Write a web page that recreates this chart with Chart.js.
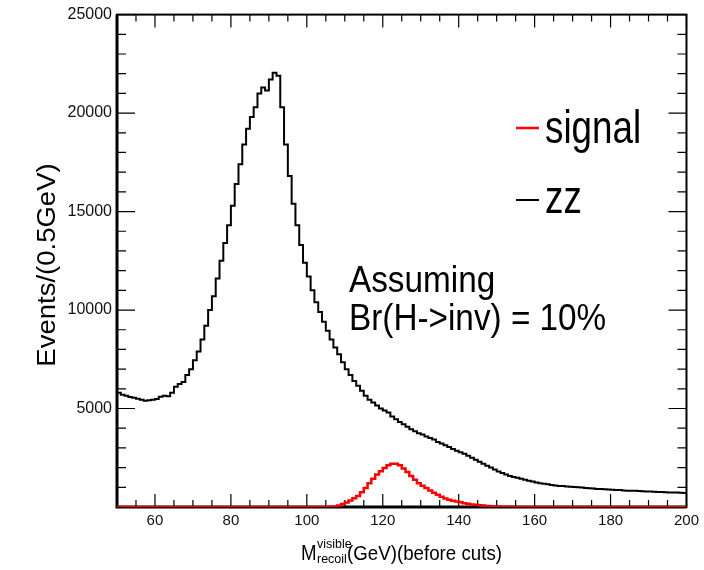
<!DOCTYPE html>
<html lang="en">
<head>
<meta charset="UTF-8">
<title>Recoil mass before cuts</title>
<script src="https://cdn.jsdelivr.net/npm/chart.js"></script>
<style>
  html, body { margin: 0; padding: 0; background: #fff; }
</style>
</head>
<body>
<canvas id="recoilChart" width="704" height="570"></canvas>
<script>
// histogram binning (GeV)
const binStart = 50;
const binWidth = 1;

// ZZ background, one entry per bin starting at 50 GeV
const zzCounts = [
  5800, 5700, 5650, 5580, 5550, 5500, 5450, 5400, 5420, 5450,
  5480, 5600, 5650, 5620, 5800, 6100, 6250, 6350, 6700, 7000,
  7450, 7900, 8500, 9200, 10000, 10700, 11600, 12500, 13400, 14300,
  15300, 16400, 17400, 18400, 19200, 19800, 20300, 21000, 21300, 21150,
  21700, 22050, 21900, 20300, 18400, 16800, 15400, 14300, 13300, 12400,
  11700, 11000, 10400, 9900, 9400, 8950, 8500, 8100, 7750, 7350,
  7000, 6700, 6400, 6150, 5900, 5650, 5450, 5300, 5150, 5000,
  4900, 4800, 4600, 4450, 4320, 4200, 4080, 3950, 3850, 3750,
  3680, 3580, 3500, 3430, 3300, 3230, 3130, 3050, 2950, 2850,
  2780, 2700, 2600, 2500, 2400, 2300, 2200, 2100, 2000, 1900,
  1800, 1720, 1650, 1580, 1520, 1480, 1430, 1380, 1330, 1290,
  1240, 1210, 1180, 1150, 1120, 1090, 1070, 1060, 1040, 1030,
  1010, 1000, 990, 970, 950, 940, 920, 910, 900, 890,
  870, 860, 860, 840, 830, 820, 820, 810, 800, 790,
  790, 770, 760, 760, 750, 740, 730, 730, 720, 710
];

// Higgs -> invisible signal, same binning
const signalCounts = [
  0, 0, 0, 0, 0, 0, 0, 0, 0, 0,
  0, 0, 0, 0, 0, 0, 0, 0, 0, 0,
  0, 0, 0, 0, 0, 0, 0, 0, 0, 0,
  0, 0, 0, 0, 0, 0, 0, 0, 0, 0,
  0, 0, 0, 0, 0, 0, 0, 0, 0, 0,
  0, 0, 0, 0, 0, 0, 10, 30, 70, 150,
  230, 330, 440, 560, 750, 960, 1200, 1440, 1650, 1820,
  1980, 2120, 2200, 2190, 2120, 1950, 1780, 1580, 1380, 1200,
  1080, 960, 840, 720, 620, 520, 430, 370, 320, 280,
  240, 190, 160, 130, 110, 90, 70, 50, 40, 30,
  20, 15, 10, 8, 5, 4, 3, 2, 1, 1,
  0, 0, 0, 0, 0, 0, 0, 0, 0, 0,
  0, 0, 0, 0, 0, 0, 0, 0, 0, 0,
  0, 0, 0, 0, 0, 0, 0, 0, 0, 0,
  0, 0, 0, 0, 0, 0, 0, 0, 0, 0
];

const xTickValues = [60, 80, 100, 120, 140, 160, 180, 200];
const yTickValues = [5000, 10000, 15000, 20000, 25000];
const xMinorStep = 5;
const yMinorStep = 1000;

const FONT = '"Liberation Sans", Arial, Helvetica, sans-serif';

// turn per-bin counts into step points at the bin edges
function toSteps(counts) {
  const pts = counts.map((c, i) => ({ x: binStart + i * binWidth, y: c }));
  pts.push({ x: binStart + counts.length * binWidth, y: counts[counts.length - 1] });
  return pts;
}

function drawText(ctx, text, x, y, size, sx, color) {
  ctx.save();
  ctx.translate(x, y);
  ctx.scale(sx, 1);
  ctx.font = size + 'px ' + FONT;
  ctx.fillStyle = color || '#000';
  ctx.textBaseline = 'alphabetic';
  ctx.fillText(text, 0, 0);
  ctx.restore();
}

// frame with inward ticks on all four sides, plus the legend and labels
const histFrame = {
  id: 'histFrame',
  beforeDatasetsDraw(chart) {
    const { ctx, chartArea: a, scales: { x, y } } = chart;
    ctx.save();
    ctx.strokeStyle = '#000';
    ctx.lineWidth = 1.2;
    ctx.beginPath();
    for (let v = 50; v <= 200; v += xMinorStep) {
      const px = x.getPixelForValue(v);
      const len = xTickValues.includes(v) ? 13 : 7;
      ctx.moveTo(px, a.bottom); ctx.lineTo(px, a.bottom - len);
      ctx.moveTo(px, a.top); ctx.lineTo(px, a.top + len);
    }
    for (let v = 0; v <= 25000; v += yMinorStep) {
      const py = y.getPixelForValue(v);
      const len = yTickValues.includes(v) ? 18 : 9;
      ctx.moveTo(a.left, py); ctx.lineTo(a.left + len, py);
      ctx.moveTo(a.right, py); ctx.lineTo(a.right - len, py);
    }
    ctx.stroke();
    ctx.lineWidth = 2;
    ctx.strokeRect(a.left, a.top, a.right - a.left, a.bottom - a.top);
    ctx.lineWidth = 3;
    ctx.beginPath();
    ctx.moveTo(a.left, a.top);
    ctx.lineTo(a.left, a.bottom);
    ctx.lineTo(a.right, a.bottom);
    ctx.stroke();
    ctx.restore();
  },
  afterDraw(chart) {
    const ctx = chart.ctx;
    ctx.save();
    // legend
    ctx.lineWidth = 2.5;
    ctx.strokeStyle = '#ff0000';
    ctx.beginPath(); ctx.moveTo(516, 128); ctx.lineTo(539, 128); ctx.stroke();
    ctx.strokeStyle = '#000';
    ctx.lineWidth = 2;
    ctx.beginPath(); ctx.moveTo(516, 200); ctx.lineTo(539, 200); ctx.stroke();
    drawText(ctx, 'signal', 545, 143, 46, 0.8);
    drawText(ctx, 'zz', 545, 213, 46, 0.8);

    // note
    drawText(ctx, 'Assuming', 349, 292, 37, 0.9);
    drawText(ctx, 'Br(H->inv) = 10%', 349, 330, 37, 0.9);

    // x title: M with super/subscript
    drawText(ctx, 'M', 301, 560, 22, 0.85);
    drawText(ctx, 'visible', 317, 548, 12.5, 1);
    drawText(ctx, 'recoil', 317, 563, 12.5, 1);
    drawText(ctx, '(GeV)(before cuts)', 347, 560, 19.5, 0.96);

    // y title
    ctx.save();
    ctx.translate(55, 265);
    ctx.rotate(-Math.PI / 2);
    ctx.scale(1.1, 1);
    ctx.font = '25px ' + FONT;
    ctx.fillStyle = '#000';
    ctx.textAlign = 'center';
    ctx.fillText('Events/(0.5GeV)', 0, 0);
    ctx.restore();
    ctx.restore();
  }
};

const ctx = document.getElementById('recoilChart').getContext('2d');
new Chart(ctx, {
  type: 'line',
  data: {
    datasets: [
      {
        label: 'zz',
        data: toSteps(zzCounts),
        stepped: true,
        borderColor: '#000',
        borderWidth: 2,
        pointRadius: 0,
        fill: false
      },
      {
        label: 'signal',
        data: toSteps(signalCounts),
        stepped: true,
        borderColor: '#ff0000',
        borderWidth: 2.5,
        pointRadius: 0,
        fill: false
      }
    ]
  },
  options: {
    responsive: false,
    animation: false,
    layout: { padding: { top: 12, right: 16, left: 0, bottom: 0 } },
    plugins: {
      legend: { display: false },
      tooltip: { enabled: false }
    },
    scales: {
      x: {
        type: 'linear',
        min: 50,
        max: 200,
        grid: { display: false, drawTicks: false },
        border: { display: false },
        afterBuildTicks: s => { s.ticks = xTickValues.map(v => ({ value: v })); },
        afterFit: s => { s.height = 63; },
        ticks: {
          padding: 5,
          maxRotation: 0,
          autoSkip: false,
          color: '#111',
          font: { family: FONT, size: 15 },
          callback: v => String(v)
        }
      },
      y: {
        type: 'linear',
        min: 0,
        max: 25000,
        grid: { display: false, drawTicks: false },
        border: { display: false },
        afterBuildTicks: s => { s.ticks = yTickValues.map(v => ({ value: v })); },
        afterFit: s => { s.width = 117; },
        ticks: {
          padding: 5,
          autoSkip: false,
          color: '#111',
          font: { family: FONT, size: 16 },
          callback: v => String(v)
        }
      }
    }
  },
  plugins: [histFrame]
});
</script>
</body>
</html>
